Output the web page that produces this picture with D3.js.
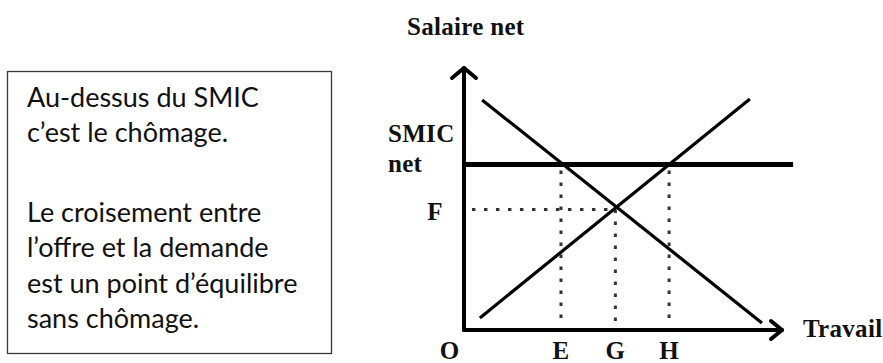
<!DOCTYPE html>
<html>
<head>
<meta charset="utf-8">
<script src="https://cdn.jsdelivr.net/npm/d3@7"></script>
<style>
  html, body { margin:0; padding:0; background:#fff; }
</style>
</head>
<body>
<svg id="chart" width="883" height="363"></svg>
<script>

// chart data (units: 0..100 on both axes)
// ---------------------------------------
var boxLines    = ["Au-dessus du SMIC", "c\u2019est le ch\u00f4mage.", "", "Le croisement entre", "l\u2019offre et la demande", "est un point d\u2019\u00e9quilibre", "sans ch\u00f4mage."];
var xTickNames  = ["O", "E", "G", "H"];
var xTickValues = [-4.5, 30.5, 47.6, 64.5];
var smicLevel   = 63.2;
var smicEnd     = 103.5;
var eqLevel     = 46;            // F
var eqX         = 47.6;          // G
var demandX     = [5.7, 93.7];
var demandY     = [87.8, 2.7];
var supplyX     = [5.0, 89.9];
var supplyY     = [4.6, 88.2];
var dropX       = [30.5, 64.5];  // E and H, from SMIC down to axis

(function() {

	var svg = d3.select("#chart");

	var x = d3.scaleLinear().domain([0, 100]).range([464, 782]);
	var y = d3.scaleLinear().domain([0, 100]).range([330, 68]);

	var szLabel = "font-family:'Liberation Serif','Times New Roman',serif;font-weight:bold;font-size:25px;letter-spacing:0.3px;fill:#111;";

	// text box on the left
	// -----------------------------------------------------------
	svg.append("rect")
		.attr("x", 7.5)
		.attr("y", 71.5)
		.attr("width", 324)
		.attr("height", 282)
		.attr("style", "fill:#fff;stroke:#3a3a3a;stroke-width:1.3;");

	var lineY = [107, 142, 0, 222, 257, 293, 328];
	boxLines.forEach(function(t, i) {
		if (!t) return;
		svg.append("text")
			.attr("x", 27)
			.attr("y", lineY[i])
			.attr("style", "font-family:Lato,'Open Sans',sans-serif;font-size:27px;fill:#111;")
			.text(t);
	});

	// dotted guide lines
	// -----------------------------------------------------------
	var szDots = "fill:none;stroke:#333;stroke-width:3;stroke-dasharray:3.5,8.5;";

	svg.append("line")
		.attr("x1", x(2.5)).attr("y1", y(eqLevel))
		.attr("x2", x(eqX)).attr("y2", y(eqLevel))
		.attr("style", szDots);

	svg.append("line")
		.attr("x1", x(eqX)).attr("y1", y(eqLevel))
		.attr("x2", x(eqX)).attr("y2", y(1.5))
		.attr("style", szDots);

	dropX.forEach(function(v) {
		svg.append("line")
			.attr("x1", x(v)).attr("y1", y(smicLevel) + 6)
			.attr("x2", x(v)).attr("y2", y(1.5))
			.attr("style", szDots);
	});

	// demand and supply
	// -----------------------------------------------------------
	svg.append("line")
		.attr("x1", x(demandX[0])).attr("y1", y(demandY[0]))
		.attr("x2", x(demandX[1])).attr("y2", y(demandY[1]))
		.attr("style", "stroke:#000;stroke-width:3.2;");

	svg.append("line")
		.attr("x1", x(supplyX[0])).attr("y1", y(supplyY[0]))
		.attr("x2", x(supplyX[1])).attr("y2", y(supplyY[1]))
		.attr("style", "stroke:#000;stroke-width:3.2;");

	// SMIC level
	// -----------------------------------------------------------
	svg.append("line")
		.attr("x1", x(0)).attr("y1", y(smicLevel))
		.attr("x2", x(smicEnd)).attr("y2", y(smicLevel))
		.attr("style", "stroke:#000;stroke-width:5;");

	// axes with open arrow heads
	// -----------------------------------------------------------
	var szAxis = "fill:none;stroke:#000;stroke-width:4;stroke-linecap:round;stroke-linejoin:round;";

	svg.append("path")
		.attr("d", "M" + x(0) + "," + y(0) + "V" + y(100))
		.attr("style", szAxis);
	svg.append("path")
		.attr("d", "M" + (x(0) - 12) + "," + (y(100) + 10) + "L" + x(0) + "," + y(100) + "L" + (x(0) + 12) + "," + (y(100) + 10))
		.attr("style", szAxis);

	svg.append("path")
		.attr("d", "M" + x(0) + "," + y(0) + "H" + x(100))
		.attr("style", szAxis);
	svg.append("path")
		.attr("d", "M" + (x(100) - 11) + "," + (y(0) - 9) + "L" + x(100) + "," + y(0) + "L" + (x(100) - 11) + "," + (y(0) + 9))
		.attr("style", szAxis);

	// labels
	// -----------------------------------------------------------
	svg.append("text")
		.attr("x", 407).attr("y", 35)
		.attr("style", szLabel)
		.text("Salaire net");

	svg.append("text")
		.attr("x", 388).attr("y", 142)
		.attr("style", szLabel)
		.text("SMIC");
	svg.append("text")
		.attr("x", 388).attr("y", 172)
		.attr("style", szLabel)
		.text("net");

	svg.append("text")
		.attr("x", x(0) - 29).attr("y", y(eqLevel) + 11)
		.attr("style", szLabel + "text-anchor:middle;")
		.text("F");

	xTickNames.forEach(function(t, i) {
		svg.append("text")
			.attr("x", x(xTickValues[i]))
			.attr("y", 359)
			.attr("style", szLabel + "text-anchor:middle;")
			.text(t);
	});

	svg.append("text")
		.attr("x", 803).attr("y", 337)
		.attr("style", szLabel)
		.text("Travail");

})();

</script>
</body>
</html>
